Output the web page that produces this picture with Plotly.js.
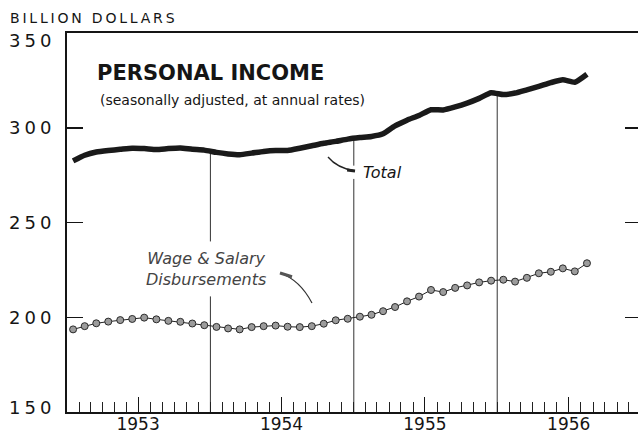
<!DOCTYPE html>
<html><head><meta charset="utf-8">
<script src="https://cdn.plot.ly/plotly-3.0.1.min.js"></script>
<style>
html,body{margin:0;padding:0;overflow:hidden;background:#fff}
#chart{width:642px;height:436px}
.ytick text{letter-spacing:4px}
</style></head><body><div id="chart"></div>
<script>
// ---- data ----
const months = ['1953-01','1953-02','1953-03','1953-04','1953-05','1953-06','1953-07','1953-08','1953-09','1953-10','1953-11','1953-12',
                '1954-01','1954-02','1954-03','1954-04','1954-05','1954-06','1954-07','1954-08','1954-09','1954-10','1954-11','1954-12',
                '1955-01','1955-02','1955-03','1955-04','1955-05','1955-06','1955-07','1955-08','1955-09','1955-10','1955-11','1955-12',
                '1956-01','1956-02','1956-03','1956-04','1956-05','1956-06','1956-07','1956-08'];
const totalIncome = [282.5,285.5,287.2,288.0,288.6,289.2,289.0,288.5,289.0,289.3,288.6,288.2,
                     287.0,286.2,285.8,286.6,287.5,288.0,288.0,289.2,290.5,291.8,292.8,294.0,
                     294.8,295.4,296.8,301.0,304.0,306.5,309.5,309.4,311.0,313.0,315.5,318.5,
                     317.5,318.3,320.0,321.8,323.8,325.3,324.0,328.2];
const wageSalary = [193.6,195.3,196.8,197.7,198.5,199.1,199.8,198.9,198.1,197.6,196.7,195.8,
                    194.9,194.1,193.6,194.8,195.3,195.6,195.0,194.8,195.3,196.6,198.4,199.2,
                    200.3,201.3,203.2,205.4,208.4,210.9,214.4,213.3,215.5,216.8,218.4,219.3,
                    219.8,218.8,220.8,223.2,224.0,225.8,224.2,228.5];
const yTickVals = [150,200,250,300,350];
const yTickText = ['150','200','250','300','350'];
const yearTickVals = ['1953-07-01','1954-07-01','1955-07-01','1956-07-01'];
const yearLabels = ['1953','1954','1955','1956'];
const yearDividers = ['1954-01','1955-01','1956-01'];

// ---- plot ----
const ink = '#151515';
const traces = [
  {x: months, y: wageSalary, type:'scatter', mode:'lines+markers',
   xperiod:'M1', xperiodalignment:'middle',
   line:{color:'#222', width:1},
   marker:{size:7, color:'#9c9c9c', line:{color:'#2a2a2a', width:1}}},
  {x: months, y: totalIncome, type:'scatter', mode:'lines',
   xperiod:'M1', xperiodalignment:'middle',
   line:{color:'#1a1a1a', width:5.5, shape:'spline', smoothing:0.5}}
];

// divider lines from the total curve down to the axis, with breaks around labels
const gaps = {'1954-01':[211,240], '1955-01':[273,280]};
const shapes = [];
yearDividers.forEach(m => {
  const i = months.indexOf(m);
  const top = (totalIncome[i-1] + totalIncome[i]) / 2;
  const xd = m + '-01';
  const g = gaps[m];
  const segs = g ? [[150, g[0]], [g[1], top]] : [[150, top]];
  segs.forEach(s => shapes.push({type:'line', xref:'x', yref:'y', x0:xd, x1:xd, y0:s[0], y1:s[1],
    line:{color:'#333', width:1}, layer:'below'}));
});
// callout pointers (paper coords)
shapes.push({type:'path', xref:'paper', yref:'paper',
  path:'M 0.4547 0.6728 Q 0.4704 0.6438 0.5017 0.6359', line:{color:'#222', width:1.3}});
shapes.push({type:'line', xref:'paper', yref:'paper', x0:0.488, y0:0.6385, x1:0.5017, y1:0.6359, line:{color:'#222', width:3}});
shapes.push({type:'path', xref:'paper', yref:'paper',
  path:'M 0.3711 0.3668 Q 0.4059 0.3483 0.4268 0.2876', line:{color:'#333', width:1.2}});
shapes.push({type:'line', xref:'paper', yref:'paper', x0:0.3711, y0:0.3668, x1:0.392, y1:0.357, line:{color:'#555', width:3}});

const annotations = [
  {text:'BILLION DOLLARS', xref:'paper', yref:'paper', x:-0.0662, y:1.0396, xanchor:'left', yanchor:'middle',
   showarrow:false, font:{family:'DejaVu Sans', size:14, color:ink}},
  {text:'<b>PERSONAL INCOME</b>', xref:'paper', yref:'paper', x:0.0488, y:0.8945, xanchor:'left', yanchor:'middle',
   showarrow:false, font:{family:'DejaVu Sans', size:21, color:ink}},
  {text:'(seasonally adjusted, at annual rates)', xref:'paper', yref:'paper', x:0.054, y:0.8232, xanchor:'left', yanchor:'middle',
   showarrow:false, font:{family:'DejaVu Sans', size:14, color:ink}},
  {text:'<i>Total</i>', xref:'paper', yref:'paper', x:0.5122, y:0.6332, xanchor:'left', yanchor:'middle',
   showarrow:false, font:{family:'DejaVu Sans', size:16, color:ink}},
  {text:'<i>Wage & Salary<br>Disbursements</i>', xref:'paper', yref:'paper', x:0.2422, y:0.3773, xanchor:'center', yanchor:'middle',
   align:'center', showarrow:false, font:{family:'DejaVu Sans', size:16, color:'#444'}}
];

const layout = {
  width:642, height:436,
  margin:{l:67, r:1, t:33, b:24},
  paper_bgcolor:'#fff', plot_bgcolor:'#fff',
  showlegend:false,
  font:{family:'DejaVu Sans', color:ink},
  xaxis:{type:'date', range:['1953-01-01','1957-01-01'],
    showline:true, linewidth:2, linecolor:ink, mirror:true,
    showgrid:false, zeroline:false,
    tickmode:'array', tickvals:yearTickVals, ticktext:yearLabels,
    ticks:'inside', ticklen:15, tickwidth:1, tickcolor:ink,
    tickfont:{family:'DejaVu Sans', size:17, color:ink},
    minor:{ticks:'inside', ticklen:10, tickwidth:1, tickcolor:'#222', dtick:'M1', tick0:'1953-01-01', showgrid:false}},
  yaxis:{range:[150,350], showline:true, linewidth:2, linecolor:ink, mirror:'ticks',
    showgrid:false, zeroline:false,
    tickmode:'array', tickvals:yTickVals, ticktext:yTickText,
    ticks:'inside', ticklen:16, tickwidth:1.5, tickcolor:ink,
    ticklabelstandoff:6,
    tickfont:{family:'DejaVu Sans', size:18, color:ink}},
  shapes: shapes,
  annotations: annotations
};

Plotly.newPlot('chart', traces, layout, {staticPlot:true, displayModeBar:false}).then(() => {
  document.querySelectorAll('.annotation-text').forEach(el => {
    if (el.textContent === 'BILLION DOLLARS') el.style.letterSpacing = '2.8px';
  });
  document.querySelectorAll('.ytick text').forEach(el => {
    const y = parseFloat(el.getAttribute('y') || '0');
    if (el.textContent === '350') el.setAttribute('y', y + 8);
    if (el.textContent === '150') el.setAttribute('y', y - 4);
  });
  document.querySelectorAll('.xtick text').forEach(el => {
    const y = parseFloat(el.getAttribute('y') || '0');
    el.setAttribute('y', y - 4);
  });
});
</script></body></html>
